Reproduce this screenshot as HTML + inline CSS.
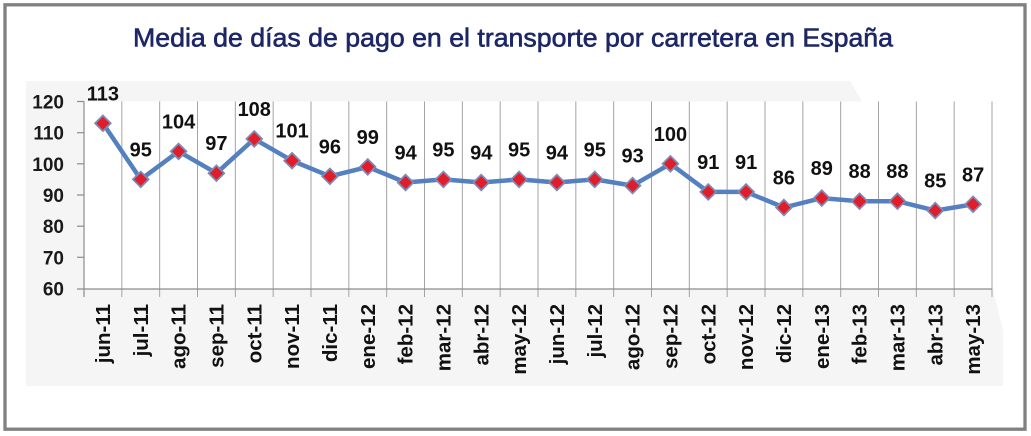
<!DOCTYPE html>
<html>
<head>
<meta charset="utf-8">
<style>
  html, body { margin: 0; padding: 0; background: #ffffff; }
  svg { display: block; }
  text { font-family: "Liberation Sans", Arial, sans-serif; }
</style>
</head>
<body>
<svg width="1031" height="436" viewBox="0 0 1031 436" xmlns="http://www.w3.org/2000/svg">
  <rect x="0" y="0" width="1031" height="436" fill="#ffffff"/>
  <!-- outer frame -->
  <rect x="5" y="4.8" width="1020" height="424.4" fill="#ffffff" stroke="#808080" stroke-width="3.3"/>

  <!-- title -->
  <text x="133" y="46.5" font-size="26" fill="#1d2767" stroke="#1d2767" stroke-width="0.6" textLength="760" lengthAdjust="spacingAndGlyphs">Media de días de pago en el transporte por carretera en España</text>

  <!-- light gray panel -->
  <polygon points="26,81 850,81 862,101.5 84,101.5 84,289 993,289 1003,330 1003,386 26,386" fill="#f5f5f5"/>
  <!-- plot area -->
  <rect x="84" y="101.5" width="908" height="187.5" fill="#ffffff"/>

  <!-- vertical gridlines + ticks -->
  <g stroke="#a3a3a3" stroke-width="1">
    <line x1="121.83" y1="101.5" x2="121.83" y2="297"/>
    <line x1="159.67" y1="101.5" x2="159.67" y2="297"/>
    <line x1="197.5" y1="101.5" x2="197.5" y2="297"/>
    <line x1="235.33" y1="101.5" x2="235.33" y2="297"/>
    <line x1="273.17" y1="101.5" x2="273.17" y2="297"/>
    <line x1="311" y1="101.5" x2="311" y2="297"/>
    <line x1="348.83" y1="101.5" x2="348.83" y2="297"/>
    <line x1="386.67" y1="101.5" x2="386.67" y2="297"/>
    <line x1="424.5" y1="101.5" x2="424.5" y2="297"/>
    <line x1="462.33" y1="101.5" x2="462.33" y2="297"/>
    <line x1="500.17" y1="101.5" x2="500.17" y2="297"/>
    <line x1="538" y1="101.5" x2="538" y2="297"/>
    <line x1="575.83" y1="101.5" x2="575.83" y2="297"/>
    <line x1="613.67" y1="101.5" x2="613.67" y2="297"/>
    <line x1="651.5" y1="101.5" x2="651.5" y2="297"/>
    <line x1="689.33" y1="101.5" x2="689.33" y2="297"/>
    <line x1="727.17" y1="101.5" x2="727.17" y2="297"/>
    <line x1="765" y1="101.5" x2="765" y2="297"/>
    <line x1="802.83" y1="101.5" x2="802.83" y2="297"/>
    <line x1="840.67" y1="101.5" x2="840.67" y2="297"/>
    <line x1="878.5" y1="101.5" x2="878.5" y2="297"/>
    <line x1="916.33" y1="101.5" x2="916.33" y2="297"/>
    <line x1="954.17" y1="101.5" x2="954.17" y2="297"/>
    <line x1="992" y1="101.5" x2="992" y2="297"/>
  </g>

  <!-- axes -->
  <g stroke="#8c8c8c" stroke-width="1.2">
    <line x1="84" y1="101.5" x2="84" y2="297"/>
    <line x1="77" y1="289" x2="992" y2="289"/>
    <line x1="77" y1="257.3" x2="84" y2="257.3"/>
    <line x1="77" y1="226.2" x2="84" y2="226.2"/>
    <line x1="77" y1="195" x2="84" y2="195"/>
    <line x1="77" y1="163.8" x2="84" y2="163.8"/>
    <line x1="77" y1="132.7" x2="84" y2="132.7"/>
    <line x1="77" y1="101.5" x2="84" y2="101.5"/>
  </g>

  <!-- y labels -->
  <g font-size="19" font-weight="bold" fill="#1a1a1a" text-anchor="end">
    <text x="64" y="295.5">60</text>
    <text x="64" y="264.3">70</text>
    <text x="64" y="233.2">80</text>
    <text x="64" y="202">90</text>
    <text x="64" y="170.8">100</text>
    <text x="64" y="139.7">110</text>
    <text x="64" y="108.5">120</text>
  </g>

  <!-- series line -->
  <polyline fill="none" stroke="#5580c0" stroke-width="4.5" stroke-linejoin="round"
    points="102.9,123.3 140.75,179.4 178.58,151.4 216.42,173.2 254.25,138.9 292.08,160.7 329.92,176.3 367.75,166.9 405.58,182.5 443.42,179.4 481.25,182.5 519.08,179.4 556.92,182.5 594.75,179.4 632.58,185.6 670.42,163.8 708.25,191.9 746.08,191.9 783.92,207.5 821.75,198.1 859.58,201.2 897.42,201.2 935.25,210.6 973.08,204.3"/>

  <!-- markers -->
  <defs>
    <path id="dm" d="M0,-7.8 L7.8,0 L0,7.8 L-7.8,0 Z" fill="#e11d2a" stroke="#8189b3" stroke-width="1.8"/>
  </defs>
  <g>
    <use href="#dm" transform="translate(102.9,123.3)"/>
    <use href="#dm" transform="translate(140.75,179.4)"/>
    <use href="#dm" transform="translate(178.58,151.4)"/>
    <use href="#dm" transform="translate(216.42,173.2)"/>
    <use href="#dm" transform="translate(254.25,138.9)"/>
    <use href="#dm" transform="translate(292.08,160.7)"/>
    <use href="#dm" transform="translate(329.92,176.3)"/>
    <use href="#dm" transform="translate(367.75,166.9)"/>
    <use href="#dm" transform="translate(405.58,182.5)"/>
    <use href="#dm" transform="translate(443.42,179.4)"/>
    <use href="#dm" transform="translate(481.25,182.5)"/>
    <use href="#dm" transform="translate(519.08,179.4)"/>
    <use href="#dm" transform="translate(556.92,182.5)"/>
    <use href="#dm" transform="translate(594.75,179.4)"/>
    <use href="#dm" transform="translate(632.58,185.6)"/>
    <use href="#dm" transform="translate(670.42,163.8)"/>
    <use href="#dm" transform="translate(708.25,191.9)"/>
    <use href="#dm" transform="translate(746.08,191.9)"/>
    <use href="#dm" transform="translate(783.92,207.5)"/>
    <use href="#dm" transform="translate(821.75,198.1)"/>
    <use href="#dm" transform="translate(859.58,201.2)"/>
    <use href="#dm" transform="translate(897.42,201.2)"/>
    <use href="#dm" transform="translate(935.25,210.6)"/>
    <use href="#dm" transform="translate(973.08,204.3)"/>
  </g>

  <!-- data labels -->
  <g font-size="20" font-weight="bold" fill="#111111" text-anchor="middle">
    <text x="102.9" y="100.3">113</text>
    <text x="140.75" y="156.4">95</text>
    <text x="178.58" y="128.4">104</text>
    <text x="216.42" y="150.2">97</text>
    <text x="254.25" y="115.9">108</text>
    <text x="292.08" y="137.7">101</text>
    <text x="329.92" y="153.3">96</text>
    <text x="367.75" y="143.9">99</text>
    <text x="405.58" y="159.5">94</text>
    <text x="443.42" y="156.4">95</text>
    <text x="481.25" y="159.5">94</text>
    <text x="519.08" y="156.4">95</text>
    <text x="556.92" y="159.5">94</text>
    <text x="594.75" y="156.4">95</text>
    <text x="632.58" y="162.6">93</text>
    <text x="670.42" y="140.8">100</text>
    <text x="708.25" y="168.9">91</text>
    <text x="746.08" y="168.9">91</text>
    <text x="783.92" y="184.5">86</text>
    <text x="821.75" y="175.1">89</text>
    <text x="859.58" y="178.2">88</text>
    <text x="897.42" y="178.2">88</text>
    <text x="935.25" y="187.6">85</text>
    <text x="973.08" y="181.3">87</text>
  </g>

  <!-- x labels (rotated) -->
  <g font-size="20.5" font-weight="bold" fill="#111111" text-anchor="end">
    <text transform="translate(109.9,304) rotate(-90)">jun-11</text>
    <text transform="translate(147.75,304) rotate(-90)">jul-11</text>
    <text transform="translate(185.58,304) rotate(-90)">ago-11</text>
    <text transform="translate(223.42,304) rotate(-90)">sep-11</text>
    <text transform="translate(261.25,304) rotate(-90)">oct-11</text>
    <text transform="translate(299.08,304) rotate(-90)">nov-11</text>
    <text transform="translate(336.92,304) rotate(-90)">dic-11</text>
    <text transform="translate(374.75,304) rotate(-90)">ene-12</text>
    <text transform="translate(412.58,304) rotate(-90)">feb-12</text>
    <text transform="translate(450.42,304) rotate(-90)">mar-12</text>
    <text transform="translate(488.25,304) rotate(-90)">abr-12</text>
    <text transform="translate(526.08,304) rotate(-90)">may-12</text>
    <text transform="translate(563.92,304) rotate(-90)">jun-12</text>
    <text transform="translate(601.75,304) rotate(-90)">jul-12</text>
    <text transform="translate(639.58,304) rotate(-90)">ago-12</text>
    <text transform="translate(677.42,304) rotate(-90)">sep-12</text>
    <text transform="translate(715.25,304) rotate(-90)">oct-12</text>
    <text transform="translate(753.08,304) rotate(-90)">nov-12</text>
    <text transform="translate(790.92,304) rotate(-90)">dic-12</text>
    <text transform="translate(828.75,304) rotate(-90)">ene-13</text>
    <text transform="translate(866.58,304) rotate(-90)">feb-13</text>
    <text transform="translate(904.42,304) rotate(-90)">mar-13</text>
    <text transform="translate(942.25,304) rotate(-90)">abr-13</text>
    <text transform="translate(980.08,304) rotate(-90)">may-13</text>
  </g>
</svg>
</body>
</html>
